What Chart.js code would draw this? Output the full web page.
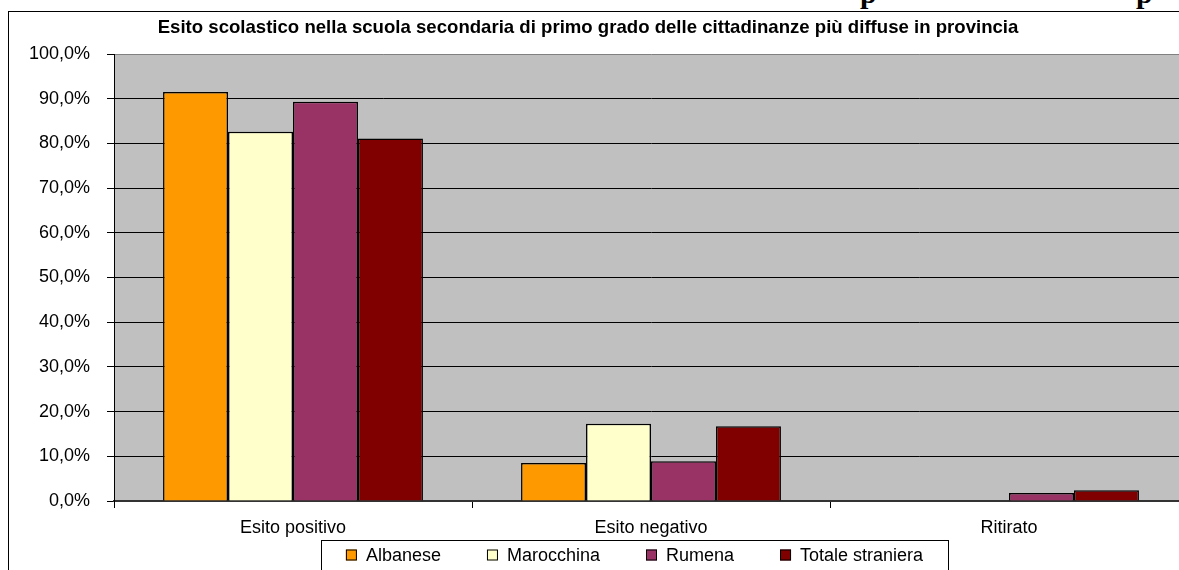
<!DOCTYPE html>
<html>
<head>
<meta charset="utf-8">
<script src="https://cdn.jsdelivr.net/npm/chart.js@4.4.1/dist/chart.umd.min.js"></script>
<style>
  html, body { margin: 0; padding: 0; background: #fff; }
  body { width: 1179px; height: 570px; overflow: hidden; position: relative; }
  #frame { position: absolute; left: 8px; top: 11px; width: 1200px; height: 600px;
           border-left: 1px solid #000; border-top: 1px solid #000; }
  #chart1 { position: absolute; left: 0; top: 0; }
  .cut { position: absolute; top: -22px; font: bold 30px "Liberation Serif", serif; line-height: 30px; color: #000; }
</style>
</head>
<body>
<div class="cut" style="left:860px">p</div>
<div class="cut" style="left:1136px">p</div>
<div id="frame"><canvas id="chart1" width="1185" height="575"></canvas></div>
<script>
const titleText = 'Esito scolastico nella scuola secondaria di primo grado delle cittadinanze più diffuse in provincia';
const categories = ['Esito positivo', 'Esito negativo', 'Ritirato'];
const seriesNames = ['Albanese', 'Marocchina', 'Rumena', 'Totale straniera'];
const albanese = [91.5, 8.5, 0];
const marocchina = [82.6, 17.3, 0];
const rumena = [89.3, 8.9, 1.8];
const totale = [81.1, 16.7, 2.4];
const colors = ['#FF9900', '#FFFFCC', '#993366', '#800000'];

const FONT = "'Liberation Sans', Arial, sans-serif";

// grey plot area + title + boxed legend
const decor = {
    id: 'decor',
    beforeDraw(chart) {
        const {ctx, chartArea: a} = chart;
        ctx.save();
        ctx.fillStyle = '#C0C0C0';
        ctx.fillRect(a.left, a.top, a.right - a.left, a.bottom - a.top);
        ctx.restore();
    },
    afterDraw(chart) {
        const ctx = chart.ctx;
        ctx.save();
        ctx.fillStyle = '#000';
        ctx.font = 'bold 18.6px ' + FONT;
        ctx.textAlign = 'center';
        ctx.textBaseline = 'alphabetic';
        ctx.fillText(titleText, 579, 21);

        // legend box
        const bx = 312, by = 528, bw = 627, bh = 60;
        ctx.lineWidth = 1;
        ctx.strokeStyle = '#000';
        ctx.strokeRect(bx + 0.5, by + 0.5, bw, bh);
        ctx.font = '18px ' + FONT;
        const sw = 11, gap = 9, pad = 46;
        const items = chart.data.datasets.map(d => ({label: d.label, color: d.backgroundColor, w: ctx.measureText(d.label).width}));
        let total = items.reduce((s, it) => s + sw + gap + it.w, 0) + pad * (items.length - 1);
        let x = bx + (bw - total) / 2;
        const cy = 543;
        ctx.textAlign = 'left';
        ctx.textBaseline = 'middle';
        items.forEach(it => {
            ctx.fillStyle = it.color;
            ctx.fillRect(x, cy - sw / 2, sw, sw);
            ctx.strokeStyle = '#000';
            ctx.strokeRect(x + 0.5, cy - sw / 2 + 0.5, sw - 1, sw - 1);
            ctx.fillStyle = '#000';
            ctx.fillText(it.label, x + sw + gap, cy + 1);
            x += sw + gap + it.w + pad;
        });
        ctx.restore();
    }
};

new Chart('chart1', {
    type: 'bar',
    data: {
        labels: categories,
        datasets: [albanese, marocchina, rumena, totale].map((vals, i) => ({
            label: seriesNames[i],
            data: vals,
            backgroundColor: colors[i],
            borderColor: '#000',
            borderWidth: 1.5,
            borderSkipped: 'start',
            categoryPercentage: 0.726,
            barPercentage: 1
        }))
    },
    options: {
        responsive: false,
        animation: false,
        devicePixelRatio: 1,
        layout: {padding: {top: 42, right: 6, left: 0, bottom: 0}},
        plugins: {
            legend: {display: false},
            title: {display: false},
            tooltip: {enabled: false}
        },
        scales: {
            x: {
                offset: true,
                grid: {offset: true, drawOnChartArea: false, drawTicks: true, tickLength: 7, color: '#000'},
                border: {display: true, color: '#333', width: 2},
                ticks: {color: '#000', font: {family: FONT, size: 18}, padding: 9},
                afterFit(scale) { scale.height = 575 - 489; }
            },
            y: {
                min: 0,
                max: 100,
                grid: {
                    color: c => c.tick && c.tick.value === 100 ? '#808080' : (c.tick && c.tick.value === 0 ? 'rgba(0,0,0,0)' : '#000'),
                    tickColor: '#000',
                    tickLength: 7
                },
                border: {display: true, color: '#000', width: 1},
                ticks: {
                    stepSize: 10,
                    color: '#000',
                    padding: 17,
                    font: {family: FONT, size: 18},
                    callback: v => v.toFixed(1).replace('.', ',') + '%'
                },
                afterFit(scale) { scale.width = 105; }
            }
        }
    },
    plugins: [decor]
});
</script>
</body>
</html>
